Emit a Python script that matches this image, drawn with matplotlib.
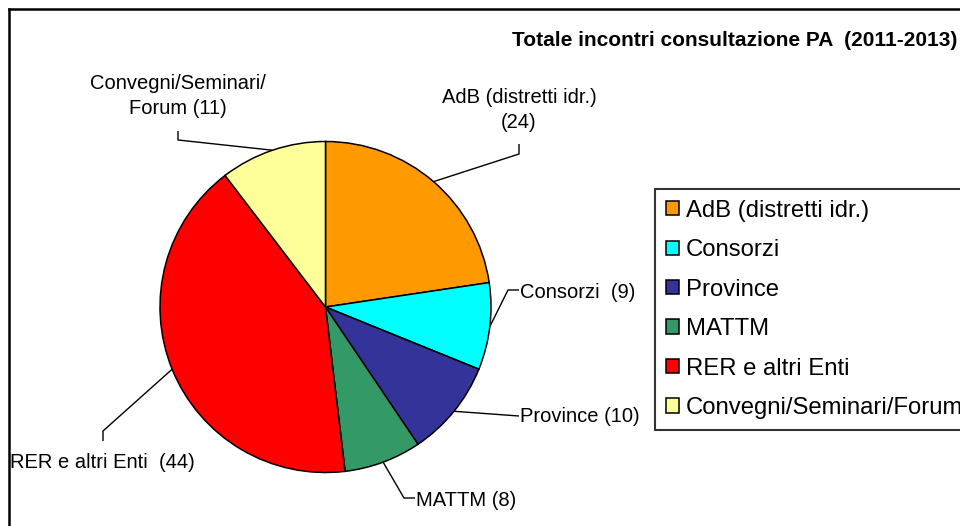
import matplotlib
matplotlib.use('Agg')
import matplotlib.pyplot as plt
import numpy as np

# ---------------- data ----------------
categories = ['AdB (distretti idr.)', 'Consorzi', 'Province', 'MATTM',
              'RER e altri Enti', 'Convegni/Seminari/Forum']
label_names = ['AdB (distretti idr.)\n', 'Consorzi  ', 'Province ', 'MATTM ',
               'RER e altri Enti  ', 'Convegni/Seminari/\nForum ']
values = [24, 9, 10, 8, 44, 11]
colors = ['#FF9900', '#00FFFF', '#333399', '#339966', '#FF0000', '#FFFF99']
title = 'Totale incontri consultazione PA  (2011-2013)'

# ---------------- layout (pixel coords, y measured from top) ----------------
W, H = 960, 526
PIE_CX, PIE_CY, PIE_R = 325.5, 307, 165.5
label_layout = [
    dict(xy=(519, 110), ha='center', elbow=[(519, 154), (519, 144)]),
    dict(xy=(520, 292), ha='left', elbow=[(508, 290), (519, 290)]),
    dict(xy=(520, 416), ha='left', elbow=[(519, 416)]),
    dict(xy=(416, 500), ha='left', elbow=[(404, 498), (415, 498)]),
    dict(xy=(102, 462), ha='center', elbow=[(103, 431), (103, 441)]),
    dict(xy=(178, 96), ha='center', elbow=[(178, 140), (178, 131)]),
]

plt.rcParams['font.family'] = ['Liberation Sans', 'DejaVu Sans']


def Y(y):
    return H - y


fig = plt.figure(figsize=(W / 100, H / 100), dpi=100)
ax = fig.add_axes([0, 0, 1, 1])

wedges, _ = ax.pie(values, colors=colors, startangle=90, counterclock=False,
                   center=(PIE_CX, Y(PIE_CY)), radius=PIE_R,
                   wedgeprops=dict(edgecolor='black', linewidth=1.1),
                   frame=True)
ax.set_xlim(0, W)
ax.set_ylim(0, H)
ax.axis('off')

# labels with leader lines
for w, name, v, lay in zip(wedges, label_names, values, label_layout):
    mid = np.deg2rad((w.theta1 + w.theta2) / 2)
    sx = PIE_CX + PIE_R * np.cos(mid)
    sy = Y(PIE_CY) + PIE_R * np.sin(mid)
    xs = [sx] + [p[0] for p in lay['elbow']]
    ys = [sy] + [Y(p[1]) for p in lay['elbow']]
    ax.plot(xs, ys, color='black', lw=1.0, solid_capstyle='butt')
    ax.text(lay['xy'][0], Y(lay['xy'][1]), f"{name}({v})", ha=lay['ha'],
            va='center', fontsize=14.5, linespacing=1.4, multialignment='center')

# title
ax.text(957, Y(41), title, ha='right', va='center', fontsize=15,
        fontweight='bold')

# legend
leg = ax.legend(wedges, categories, loc='upper left',
                bbox_to_anchor=(655 / W, 1 - 189 / H),
                bbox_transform=fig.transFigure,
                fontsize=17.2, frameon=True, fancybox=False, shadow=False,
                handlelength=0.55, handleheight=0.55, handletextpad=0.28,
                labelspacing=0.73, borderpad=0.45, borderaxespad=0)
leg.get_frame().set_edgecolor('black')
leg.get_frame().set_linewidth(1.5)

# outer chart frame
ax.plot([9, W + 5], [Y(9), Y(9)], color='black', lw=1.8, clip_on=False)
ax.plot([9, 9], [Y(9), Y(H + 5)], color='black', lw=1.8, clip_on=False)

fig.savefig('out.png', dpi=100)
